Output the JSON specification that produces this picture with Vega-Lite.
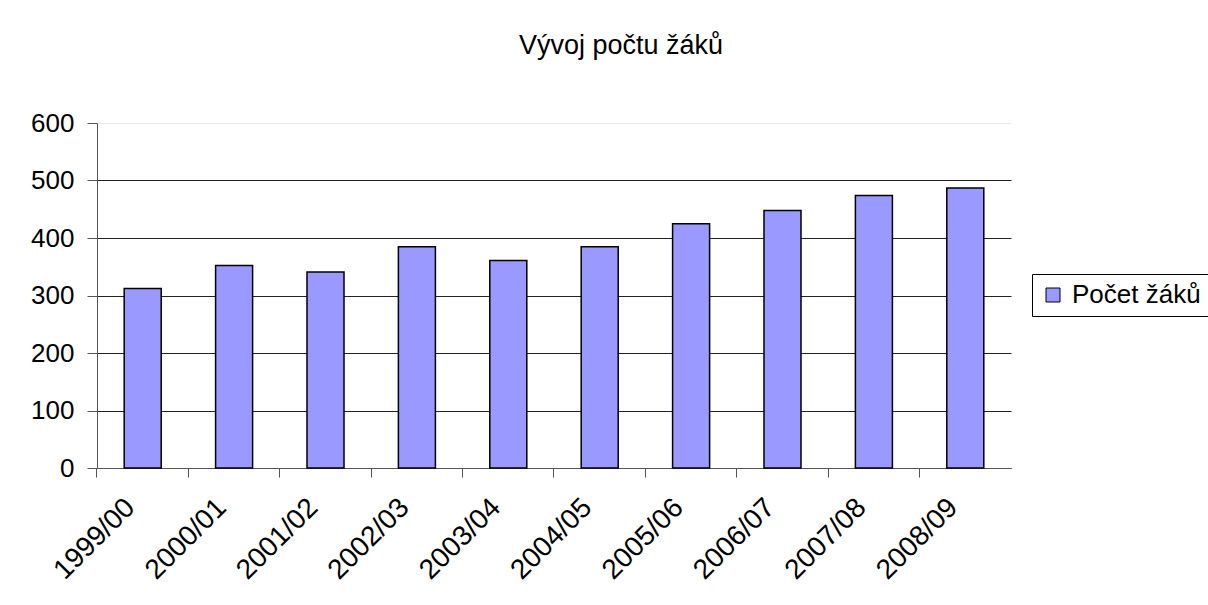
{
  "$schema": "https://vega.github.io/schema/vega-lite/v6.json",
  "width": 914,
  "height": 345,
  "autosize": "none",
  "padding": {"left": 97, "top": 123, "right": 197, "bottom": 137},
  "background": "white",
  "title": {
    "text": "Vývoj počtu žáků",
    "font": "Liberation Sans",
    "fontSize": 27,
    "fontWeight": "normal",
    "color": "black",
    "anchor": "middle",
    "offset": 50,
    "dx": 67
  },
  "data": {
    "values": [
      {"rok": "1999/00", "serie": "Počet žáků", "pocet": 312},
      {"rok": "2000/01", "serie": "Počet žáků", "pocet": 352},
      {"rok": "2001/02", "serie": "Počet žáků", "pocet": 341},
      {"rok": "2002/03", "serie": "Počet žáků", "pocet": 385},
      {"rok": "2003/04", "serie": "Počet žáků", "pocet": 361},
      {"rok": "2004/05", "serie": "Počet žáků", "pocet": 385},
      {"rok": "2005/06", "serie": "Počet žáků", "pocet": 425},
      {"rok": "2006/07", "serie": "Počet žáků", "pocet": 448},
      {"rok": "2007/08", "serie": "Počet žáků", "pocet": 474},
      {"rok": "2008/09", "serie": "Počet žáků", "pocet": 487}
    ]
  },
  "mark": {"type": "bar", "stroke": "black", "strokeWidth": 1.5},
  "encoding": {
    "x": {
      "field": "rok",
      "type": "nominal",
      "sort": null,
      "title": null,
      "scale": {"paddingInner": 0.595, "paddingOuter": 0.2975},
      "axis": {
        "bandPosition": -0.7346,
        "labelAngle": -45,
        "labelAlign": "right",
        "labelBaseline": "middle",
        "labelOffset": -12,
        "labelFont": "Liberation Sans",
        "labelFontSize": 28,
        "labelColor": "black",
        "labelPadding": 26,
        "tickSize": 9,
        "tickColor": "#555",
        "domainColor": "#555",
        "grid": false
      }
    },
    "y": {
      "field": "pocet",
      "type": "quantitative",
      "title": null,
      "scale": {"domain": [0, 600], "nice": false},
      "axis": {
        "values": [0, 100, 200, 300, 400, 500, 600],
        "labelFont": "Liberation Sans",
        "labelFontSize": 26,
        "labelColor": "black",
        "labelPadding": 13,
        "tickSize": 10,
        "tickColor": "#555",
        "domainColor": "#555",
        "grid": true,
        "gridColor": {"condition": {"test": "datum.value === 600", "value": "#e8e8e8"}, "value": "#222"},
        "gridOpacity": 1
      }
    },
    "fill": {
      "field": "serie",
      "type": "nominal",
      "scale": {"range": ["#9999ff"]},
      "legend": {
        "title": null,
        "orient": "none",
        "legendX": 935,
        "legendY": 151,
        "strokeColor": "black",
        "padding": 8,
        "symbolType": "square",
        "symbolSize": 196,
        "symbolStrokeColor": "black",
        "symbolStrokeWidth": 1,
        "labelOffset": 6,
        "labelFont": "Liberation Sans",
        "labelFontSize": 26,
        "labelColor": "black",
        "labelLimit": 300
      }
    }
  },
  "config": {
    "view": {"stroke": null}
  }
}
